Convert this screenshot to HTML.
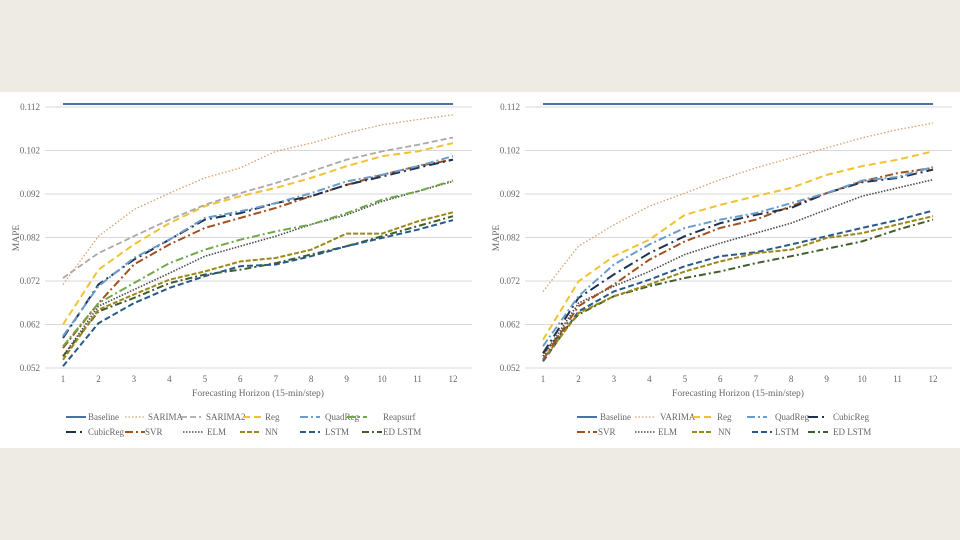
<!DOCTYPE html>
<html><head><meta charset="utf-8"><style>
body{margin:0;background:#eeebe5;width:960px;height:540px;overflow:hidden}
#panel{position:absolute;left:0;top:92px;width:960px;height:356px;background:#fff}
svg{position:absolute;left:0;top:0}
text{font-family:"Liberation Serif",serif;fill:#666}
</style></head><body>
<div id="panel"></div>
<svg id="svg" width="960" height="540"></svg>
<script>
const steps=[1,2,3,4,5,6,7,8,9,10,11,12];
const yTicks=[0.052,0.062,0.072,0.082,0.092,0.102,0.112];
const leftBaseline=[0.1127,0.1127,0.1127,0.1127,0.1127,0.1127,0.1127,0.1127,0.1127,0.1127,0.1127,0.1127];
const leftSARIMA=[0.0712,0.0823,0.0884,0.0922,0.0957,0.098,0.1018,0.1037,0.106,0.1079,0.1091,0.1102];
const leftSARIMA2=[0.0727,0.0784,0.0823,0.0861,0.0895,0.0922,0.0945,0.0972,0.0999,0.1018,0.1033,0.105];
const leftReg=[0.062,0.0746,0.0804,0.0853,0.0892,0.0915,0.0934,0.0957,0.0984,0.1007,0.1018,0.1037];
const leftQuadReg=[0.0593,0.0708,0.0773,0.0815,0.0865,0.088,0.0899,0.0922,0.0949,0.0964,0.0984,0.1007];
const leftReapsurf=[0.057,0.0669,0.0715,0.0761,0.0792,0.0815,0.0834,0.085,0.0876,0.0907,0.0926,0.0951];
const leftCubicReg=[0.0589,0.0712,0.0769,0.0815,0.0861,0.0876,0.0899,0.0915,0.0941,0.096,0.098,0.0999];
const leftSVR=[0.0566,0.0669,0.0758,0.0804,0.0842,0.0865,0.0888,0.0915,0.0941,0.0964,0.0984,0.0999];
const leftELM=[0.0547,0.0662,0.07,0.0738,0.0777,0.08,0.0823,0.085,0.0872,0.0903,0.0926,0.0949];
const leftNN=[0.0539,0.0654,0.0689,0.0723,0.0742,0.0765,0.0773,0.0792,0.0829,0.0829,0.0857,0.0878];
const leftLSTM=[0.0524,0.0623,0.0669,0.0704,0.0731,0.0754,0.0758,0.0777,0.08,0.0819,0.0838,0.086];
const leftEDLSTM=[0.0547,0.065,0.0681,0.0715,0.0735,0.0746,0.0761,0.0781,0.08,0.0823,0.0846,0.0869];
const rightBaseline=[0.1127,0.1127,0.1127,0.1127,0.1127,0.1127,0.1127,0.1127,0.1127,0.1127,0.1127,0.1127];
const rightVARIMA=[0.0696,0.08,0.0849,0.0892,0.0922,0.0953,0.098,0.1003,0.1026,0.1049,0.1068,0.1083];
const rightReg=[0.0585,0.0719,0.0777,0.0815,0.0872,0.0895,0.0915,0.0934,0.0964,0.0984,0.0999,0.1018];
const rightQuadReg=[0.057,0.0685,0.0758,0.0804,0.0842,0.0861,0.0876,0.0899,0.0922,0.0951,0.0959,0.0982];
const rightCubicReg=[0.0554,0.0681,0.0735,0.0784,0.0823,0.0853,0.0872,0.0888,0.0922,0.0947,0.0957,0.0976];
const rightSVR=[0.0539,0.0662,0.0712,0.0769,0.0811,0.0842,0.0861,0.0892,0.0922,0.0949,0.0968,0.098];
const rightELM=[0.0547,0.0669,0.0708,0.0742,0.0781,0.0807,0.083,0.0853,0.0884,0.0915,0.0934,0.0953];
const rightNN=[0.0539,0.0646,0.0685,0.0712,0.0742,0.0765,0.0784,0.0792,0.0819,0.083,0.085,0.0869];
const rightLSTM=[0.0535,0.065,0.0696,0.0723,0.0754,0.0777,0.0786,0.0804,0.0823,0.0842,0.086,0.0882];
const rightEDLSTM=[0.0554,0.0643,0.0685,0.0708,0.0727,0.0742,0.0761,0.0777,0.0794,0.0811,0.0838,0.0861];

const ST={
 Baseline:{c:'#4a72a6',d:'',w:2},
 SARIMA:{c:'#d9a070',d:'1.5 2',w:1.3},VARIMA:{c:'#d9a070',d:'1.5 2',w:1.3},
 SARIMA2:{c:'#a9a9a9',d:'6 3',w:1.8},
 Reg:{c:'#f1c232',d:'7 4',w:2},
 QuadReg:{c:'#6b9dcc',d:'8 3 2 3',w:2},
 Reapsurf:{c:'#72a84c',d:'8 3 2 3',w:2},
 CubicReg:{c:'#1f3150',d:'10 4 2 4',w:2},
 SVR:{c:'#a2501e',d:'8 3 2 3',w:2},
 ELM:{c:'#4a4a4a',d:'1.5 1.5',w:1.6},
 NN:{c:'#9a8818',d:'5 2',w:2},
 LSTM:{c:'#275a8a',d:'6 3',w:2},
 EDLSTM:{c:'#3e5e2a',d:'7 3 2 3',w:2}
};
const svg=document.getElementById('svg');const NS='http://www.w3.org/2000/svg';
function mk(t,a,p){const e=document.createElementNS(NS,t);for(const k in a)e.setAttribute(k,a[k]);(p||svg).appendChild(e);return e;}
function yS(v){return 368-(v-0.052)/0.01*43.5;}
function chart(ox,name,series,legend){
 const g=mk('g',{});
 
 
 const xS=s=>ox+63+(s-1)*(390/11);
 yTicks.forEach(t=>{
  const l=mk('line',{x1:ox+45,x2:ox+472,y1:yS(t),y2:yS(t),stroke:'#d9d9d9','stroke-width':1},g);
  
  const tx=mk('text',{x:ox+40,y:yS(t)+3,'font-size':9,'text-anchor':'end'},g);tx.textContent=t.toFixed(3);
  
 });
 steps.forEach(s=>{const tx=mk('text',{x:xS(s),y:382,'font-size':9,'text-anchor':'middle'},g);tx.textContent=s;
  });
 const xt=mk('text',{x:ox+258,y:396,'font-size':9.5,'text-anchor':'middle'},g);xt.textContent='Forecasting Horizon (15-min/step)';
 
 const yt=mk('text',{x:0,y:0,'font-size':9.5,'text-anchor':'middle',transform:`translate(${ox+19},238) rotate(-90)`},g);yt.textContent='MAPE';
 
 series.slice().reverse().forEach(([k,arr])=>{
  const s=ST[k];
  const p=mk('polyline',{points:arr.map((v,i)=>xS(steps[i])+','+yS(v)).join(' '),fill:'none',stroke:s.c,'stroke-width':s.w,'stroke-dasharray':s.d,'stroke-linejoin':'round'},g);
  
 });
 legend.forEach(([k,lx,tx,row,label])=>{
  const s=ST[k];const y=row?435:420;
  const lg=mk('g',{},g);
  
  mk('line',{x1:ox+lx,x2:ox+lx+20,y1:y-3,y2:y-3,stroke:s.c,'stroke-width':s.w,'stroke-dasharray':s.d},lg);
  const t=mk('text',{x:ox+tx,y:y,'font-size':9},lg);t.textContent=label||k;
 });
}
chart(0,'left-chart',[['Baseline',leftBaseline],['SARIMA',leftSARIMA],['SARIMA2',leftSARIMA2],['Reg',leftReg],['QuadReg',leftQuadReg],['Reapsurf',leftReapsurf],['CubicReg',leftCubicReg],['SVR',leftSVR],['ELM',leftELM],['NN',leftNN],['LSTM',leftLSTM],['EDLSTM',leftEDLSTM]],
 [['Baseline',66,88,0],['SARIMA',125,148,0],['SARIMA2',181,206,0],['Reg',243,265,0],['QuadReg',300,325,0],['Reapsurf',347,383,0],
  ['CubicReg',66,88,1],['SVR',125,145,1],['ELM',183,207,1],['NN',240,265,1],['LSTM',300,325,1],['EDLSTM',362,383,1,'ED LSTM']]);
chart(480,'right-chart',[['Baseline',rightBaseline],['VARIMA',rightVARIMA],['Reg',rightReg],['QuadReg',rightQuadReg],['CubicReg',rightCubicReg],['SVR',rightSVR],['ELM',rightELM],['NN',rightNN],['LSTM',rightLSTM],['EDLSTM',rightEDLSTM]],
 [['Baseline',97,120,0],['VARIMA',155,180,0],['Reg',213,237,0],['QuadReg',267,295,0],['CubicReg',328,353,0],
  ['SVR',97,118,1],['ELM',155,178,1],['NN',212,238,1],['LSTM',272,295,1],['EDLSTM',328,353,1,'ED LSTM']]);
</script>
</body></html>
